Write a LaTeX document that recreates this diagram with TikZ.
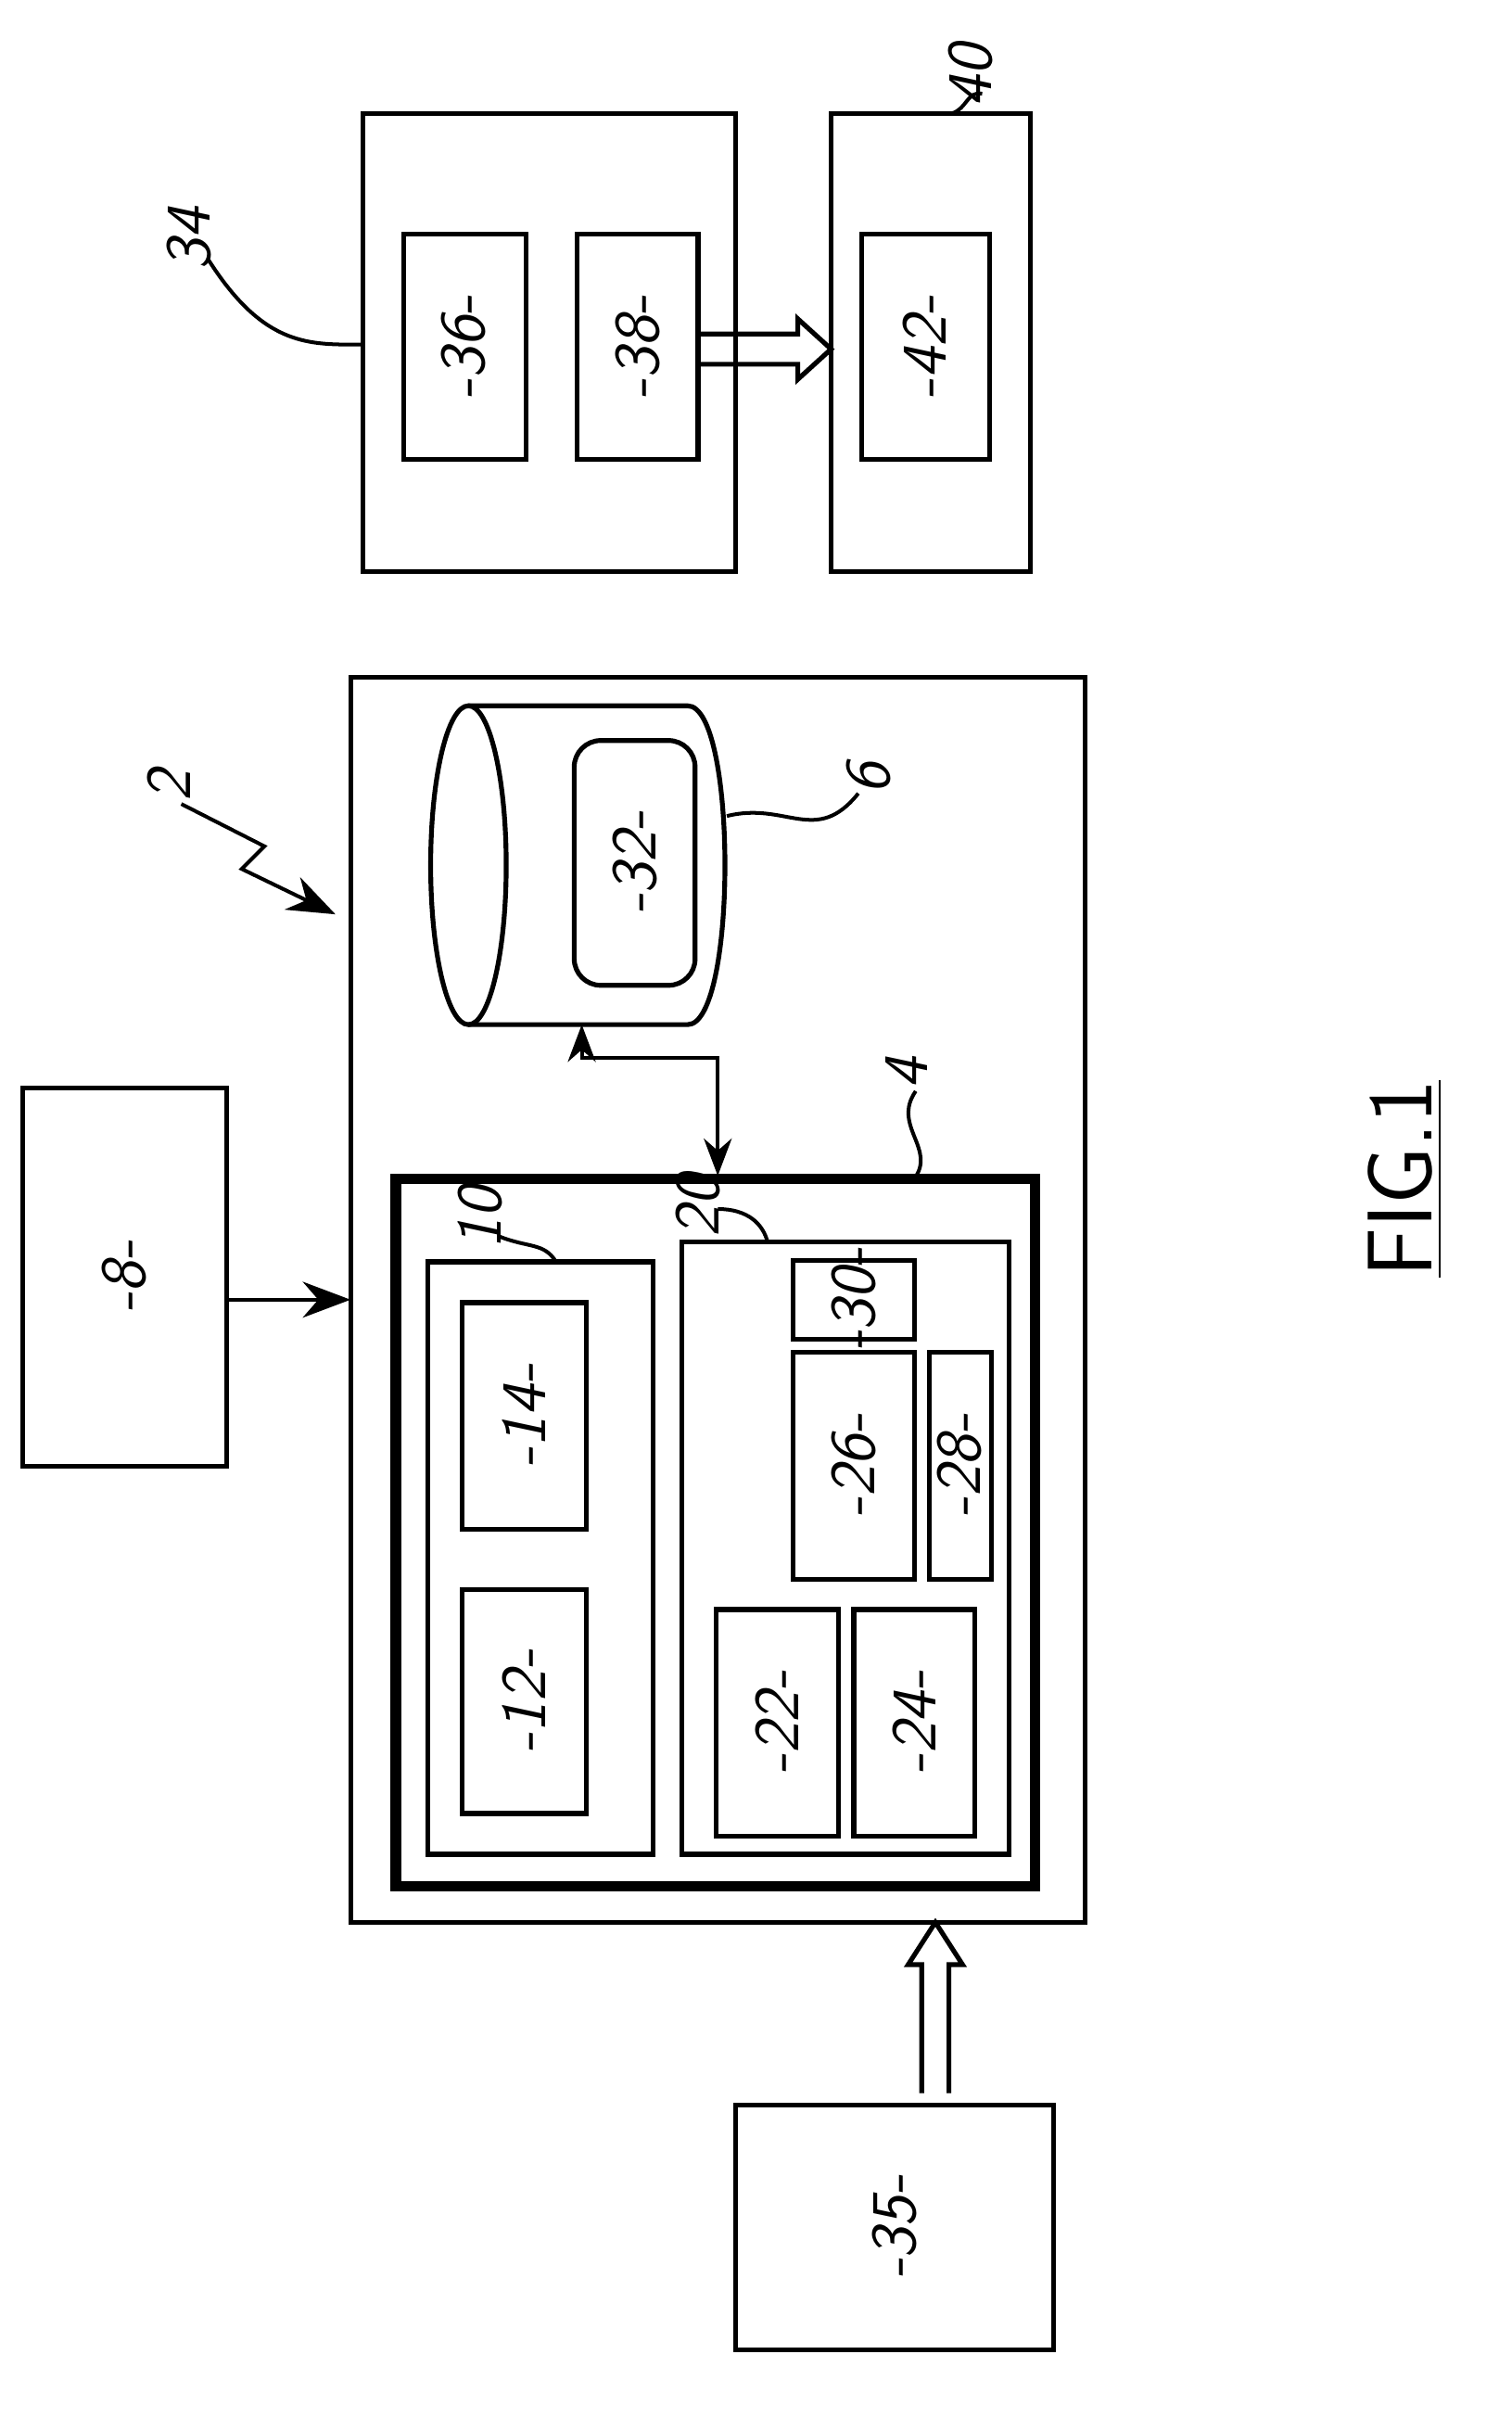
\documentclass[tikz,border=0pt]{standalone}
\usetikzlibrary{arrows.meta}
\begin{document}
\begin{tikzpicture}[x=0.01cm,y=-0.01cm,
  box/.style={draw,line width=0.9pt},
  lbl/.style={font=\sffamily\itshape\large,rotate=90},
  num/.style={font=\sffamily\itshape\large,rotate=90},
  lead/.style={line width=0.7pt}]
\useasboundingbox (0,0) rectangle (1000,1600);
% box 34
\draw[box] (240,75) rectangle (487,378); \coordinate (b34) at (240,228);
\draw[box] (267,155) rectangle (348,304); \node[lbl] (n36) at (307,230) {-36-};
\draw[box] (382,155) rectangle (462,304); \node[lbl] (n38) at (422,230) {-38-};
\draw[box] (550,75) rectangle (682,378);
\draw[box] (570,155) rectangle (655,304); \node[lbl] (n42) at (612,230) {-42-};
\draw[box] (462,221)--(528,221)--(528,211)--(550,231)--(528,251)--(528,241)--(462,241);
\node[num] (l34) at (125,158) {34};
\draw[lead] (138,172) .. controls (175,230) and (205,228) .. (b34);
\node[num] (l40) at (642,50) {40};
\draw[lead] (650,62) .. controls (640,60) and (640,72) .. (630,75);
% box 2
\draw[box] (232,448) rectangle (718,1272);
\node[num] (l2) at (112,520) {2};
\draw[lead,-{Stealth[length=9pt]}] (120,532) -- (175,560) -- (160,575) -- (222,605);
% cylinder 6
\draw[box] (310,467) -- (455,467) .. controls (488,467) and (488,678) .. (455,678) -- (310,678);
\draw[box] (310,572.5) ellipse [x radius=25,y radius=105.5];
\draw[box,rounded corners=5pt] (380,490) rectangle (460,652);
\node[lbl] (n32) at (420,571) {-32-};
\node[num] (l6) at (575,515) {6};
\draw[lead] (568,525) .. controls (540,560) and (520,530) .. (481,540);
% box 4
\draw[line width=2pt] (262,780) rectangle (685,1248);
\node[num] (l4) at (600,710) {4};
\draw[lead] (606,722) .. controls (590,745) and (620,760) .. (605,780);
\draw[lead,{Stealth[length=7pt]}-{Stealth[length=7pt]}] (385,678) -- (385,700) -- (475,700) -- (475,778);
% box 10
\draw[box] (283,835) rectangle (432,1227);
\node[num] (l10) at (318,806) {10};
\draw[lead] (330,818) .. controls (350,826) and (360,822) .. (368,835);
\draw[box] (306,862) rectangle (388,1012); \node[lbl] (n14) at (347,937) {-14-};
\draw[box] (306,1052) rectangle (388,1200); \node[lbl] (n12) at (347,1126) {-12-};
% box 20
\draw[box] (451,822) rectangle (668,1227);
\node[num] (l20) at (462,798) {20};
\draw[lead] (475,800) .. controls (495,800) and (505,810) .. (508,822);
\draw[box] (525,834) rectangle (605,886); \node[lbl] (n30) at (565,860) {-30-};
\draw[box] (525,895) rectangle (605,1045); \node[lbl] (n26) at (565,970) {-26-};
\draw[box] (615,895) rectangle (656,1045); \node[lbl] (n28) at (635,970) {-28-};
\draw[box] (474,1065) rectangle (555,1215); \node[lbl] (n22) at (514,1140) {-22-};
\draw[box] (565,1065) rectangle (645,1215); \node[lbl] (n24) at (605,1140) {-24-};
% box 8
\draw[box] (15,720) rectangle (150,970); \node[lbl] (n8) at (82,845) {-8-};
\coordinate (a8) at (150,860); \coordinate (a2) at (232,860);
\draw[lead,-{Stealth[length=9pt]}] (a8) -- (a2);
% box 35
\draw[box] (487,1393) rectangle (697,1555); \node[lbl] (n35) at (592,1474) {-35-};
\draw[box] (610,1385)--(610,1300)--(601,1300)--(619,1272)--(637,1300)--(628,1300)--(628,1385);
% FIG.1
\node[rotate=90,font=\sffamily\LARGE] (fig) at (930,780) {\underline{FIG.1}};
\end{tikzpicture}
\end{document}
